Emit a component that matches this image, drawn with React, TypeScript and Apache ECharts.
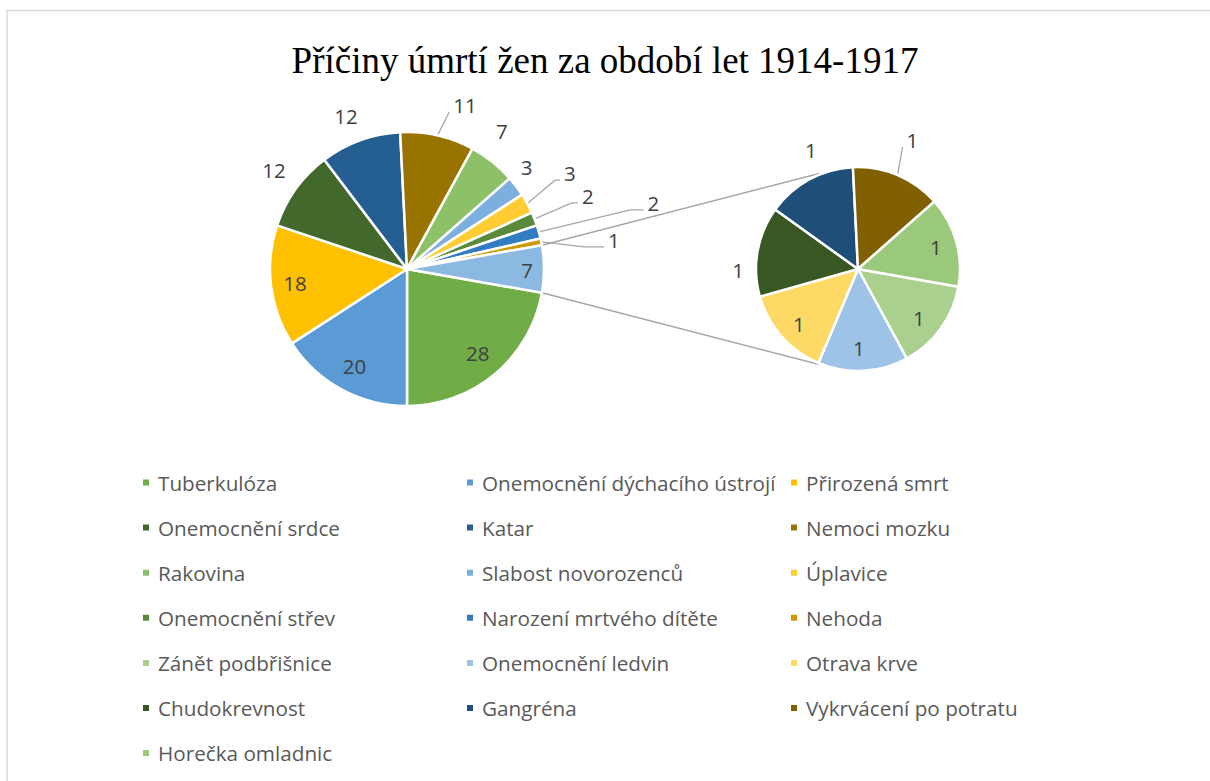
import React, { useEffect, useRef } from "react";
import * as echarts from "echarts";

// ---------- data ----------
const chartTitle = "Příčiny úmrtí žen za období let 1914-1917";

const mainCategories = [
  "Tuberkulóza",
  "Onemocnění dýchacího ústrojí",
  "Přirozená smrt",
  "Onemocnění srdce",
  "Katar",
  "Nemoci mozku",
  "Rakovina",
  "Slabost novorozenců",
  "Úplavice",
  "Onemocnění střev",
  "Narození mrtvého dítěte",
  "Nehoda",
];
const mainValues = [28, 20, 18, 12, 12, 11, 7, 3, 3, 2, 2, 1];

const secondCategories = [
  "Zánět podbřišnice",
  "Onemocnění ledvin",
  "Otrava krve",
  "Chudokrevnost",
  "Gangréna",
  "Vykrvácení po potratu",
  "Horečka omladnic",
];
const secondValues = [1, 1, 1, 1, 1, 1, 1];

const otherName = "Ostatní";

// ---------- styles ----------
const mainColors = [
  "#70AD47", "#5B9BD5", "#FFC000", "#43682B", "#255E91", "#997300",
  "#8CC168", "#7CAFDD", "#FFCD33", "#5A8A39", "#327DC2", "#CC9A00",
];
const secondColors = ["#A9D08E", "#9DC3E6", "#FFD966", "#385723", "#1F4E79", "#806000", "#9AC97B"];
const otherColor = "#8CB9E2";

// label placement: distance from pie centre (px), angle tweak (deg), leader-line elbow length
const mainLabelPlacement: { r: number; da: number; line?: number }[] = [
  { r: 110, da: 0 },
  { r: 110, da: 0 },
  { r: 113, da: 0 },
  { r: 166, da: -1 },
  { r: 165, da: 1.7 },
  { r: 174, da: -6.6, line: 0 },
  { r: 167, da: 4 },
  { r: 157, da: 3.2 },
  { r: 189, da: 1.9, line: 5 },
  { r: 195, da: 0.6, line: 6 },
  { r: 255, da: -0.7, line: 13 },
  { r: 209, da: -3.4, line: 20 },
  { r: 120, da: -0.5 },
];
const secondLabelPlacement: { r: number; da: number; line?: number }[] = [
  { r: 78, da: -3 },
  { r: 79, da: -2.2 },
  { r: 81, da: 1.6 },
  { r: 120, da: 10.5 },
  { r: 128, da: -7 },
  { r: 140, da: 0, line: 0 },
  { r: 81, da: 0 },
];

const MAIN = { cx: 407, cy: 269, r: 137, start: -10 };
const SECOND = { cx: 858, cy: 269, r: 102, start: -10 };
const CONNECT_ANGLE = 112;

const DEG = Math.PI / 180;
const polar = (cx: number, cy: number, r: number, a: number) => [
  cx + r * Math.cos(a * DEG),
  cy - r * Math.sin(a * DEG),
];
const sum = (a: number[]) => a.reduce((s, v) => s + v, 0);
function midAngles(values: number[], start: number) {
  const total = sum(values);
  let acc = 0;
  return values.map((v) => {
    const m = start - ((acc + v / 2) / total) * 360;
    acc += v;
    return m;
  });
}

function makeLabelLayout(values: number[], geo: typeof MAIN, placement: { r: number; da: number; line?: number }[]) {
  const mids = midAngles(values, geo.start);
  return (p: any) => {
    const i = p.dataIndex;
    const s = placement[i];
    const [x, y] = polar(geo.cx, geo.cy, s.r, mids[i] + s.da);
    const out: any = { x, y, align: "center", verticalAlign: "middle", hideOverlap: false };
    if (s.line != null) {
      const w = p.labelRect ? p.labelRect.width : 11;
      const [ex, ey] = polar(geo.cx, geo.cy, geo.r, mids[i]);
      const endX = x - w / 2 - 4;
      const endY = y + 7;
      out.labelLinePoints = [
        [ex, ey],
        [endX - s.line, endY],
        [endX, endY],
      ];
    }
    return out;
  };
}

const labelStyle = {
  show: true,
  position: "outside",
  formatter: "{c}",
  fontSize: 20.5,
  color: "#404040",
  fontFamily: "Open Sans",
};

export default function App() {
  const ref = useRef<HTMLDivElement>(null);

  useEffect(() => {
    if (!ref.current) return;
    const chart = echarts.init(ref.current, undefined, { renderer: "svg" });

    const otherValue = sum(secondValues);
    const mainAll = [...mainValues, otherValue];
    const mainTotal = sum(mainAll);

    const mainData = [
      ...mainCategories.map((name, i) => ({
        name,
        value: mainValues[i],
        itemStyle: { color: mainColors[i] },
        labelLine: { show: mainLabelPlacement[i].line != null },
      })),
      { name: otherName, value: otherValue, itemStyle: { color: otherColor }, labelLine: { show: false } },
    ];
    const secondData = secondCategories.map((name, i) => ({
      name,
      value: secondValues[i],
      itemStyle: { color: secondColors[i] },
      labelLine: { show: secondLabelPlacement[i].line != null },
    }));

    const allNames = [...mainCategories, ...secondCategories];
    const cols = [0, 1, 2].map((c) => allNames.filter((_, i) => i % 3 === c));
    const colLeft = [141, 465, 789];

    const half = (otherValue / mainTotal) * 180;
    const up1 = polar(MAIN.cx, MAIN.cy, MAIN.r, half);
    const up2 = polar(SECOND.cx, SECOND.cy, SECOND.r + 1, CONNECT_ANGLE);
    const lo1 = polar(MAIN.cx, MAIN.cy, MAIN.r, -half);
    const lo2 = polar(SECOND.cx, SECOND.cy, SECOND.r + 1, -CONNECT_ANGLE);

    chart.setOption({
      animation: false,
      backgroundColor: "#ffffff",
      title: {
        text: chartTitle,
        left: "center",
        top: 37,
        textStyle: { fontFamily: "Liberation Serif", fontWeight: "normal", fontSize: 37, color: "#000000" },
      },
      legend: cols.map((data, c) => ({
        data,
        orient: "vertical",
        left: colLeft[c],
        top: 472,
        padding: 0,
        itemWidth: 8,
        itemHeight: 8,
        itemGap: 24.1,
        icon: "rect",
        selectedMode: false,
        textStyle: { fontFamily: "Open Sans", fontSize: 20.7, color: "#595959", lineHeight: 20, padding: [0, 0, 0, 3] },
      })),
      graphic: [
        {
          type: "polyline",
          silent: true,
          shape: { points: [[1230, 10.5], [7, 10.5], [7, 800]] },
          style: { fill: null, stroke: "#D9D9D9", lineWidth: 1.5 },
        },
        {
          type: "line",
          silent: true,
          shape: { x1: up1[0], y1: up1[1], x2: up2[0], y2: up2[1] },
          style: { stroke: "#A6A6A6", lineWidth: 1.5 },
        },
        {
          type: "line",
          silent: true,
          shape: { x1: lo1[0], y1: lo1[1], x2: lo2[0], y2: lo2[1] },
          style: { stroke: "#A6A6A6", lineWidth: 1.5 },
        },
      ],
      series: [
        {
          type: "pie",
          center: [MAIN.cx, MAIN.cy],
          radius: MAIN.r,
          startAngle: MAIN.start,
          clockwise: true,
          avoidLabelOverlap: false,
          itemStyle: { borderColor: "#ffffff", borderWidth: 2.5 },
          label: labelStyle,
          labelLine: { lineStyle: { color: "#A6A6A6", width: 1.3 } },
          labelLayout: makeLabelLayout(mainAll, MAIN, mainLabelPlacement),
          emphasis: { disabled: true },
          data: mainData,
        },
        {
          type: "pie",
          center: [SECOND.cx, SECOND.cy],
          radius: SECOND.r,
          startAngle: SECOND.start,
          clockwise: true,
          avoidLabelOverlap: false,
          itemStyle: { borderColor: "#ffffff", borderWidth: 2.5 },
          label: labelStyle,
          labelLine: { lineStyle: { color: "#A6A6A6", width: 1.3 } },
          labelLayout: makeLabelLayout(secondValues, SECOND, secondLabelPlacement),
          emphasis: { disabled: true },
          data: secondData,
        },
      ],
    });

    return () => chart.dispose();
  }, []);

  return (
    <div
      ref={ref}
      style={{ position: "absolute", left: 0, top: 0, width: 1210, height: 781 }}
    />
  );
}
